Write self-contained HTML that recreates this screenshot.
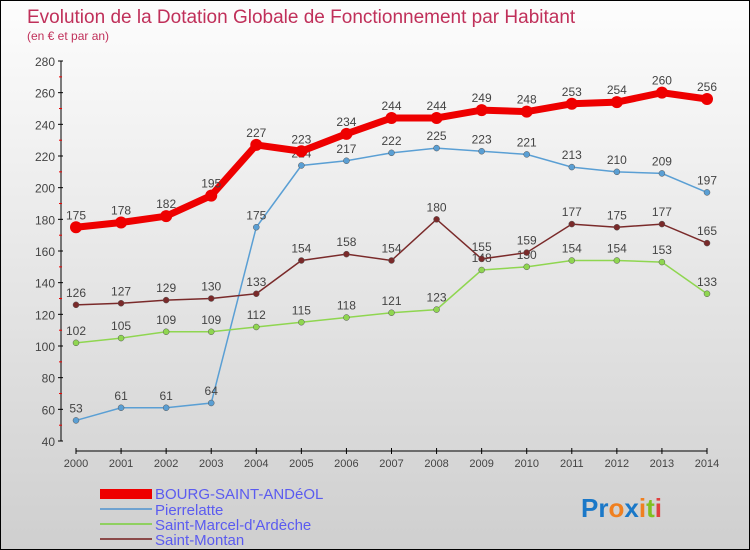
<!DOCTYPE html>
<html><head><meta charset="utf-8"><style>
body{margin:0}
#c{width:748px;height:548px;border:1px solid #000;background:linear-gradient(#fdfdfd,#cfcfcf);position:relative;overflow:hidden;font-family:"Liberation Sans",sans-serif}
</style></head><body>
<div id="c">
<svg id="s" width="748" height="548" style="position:absolute;left:0;top:0">
<text x="26" y="22" fill="#c0305a" font-size="19">Evolution de la Dotation Globale de Fonctionnement par Habitant</text>
<text x="26" y="39" fill="#c0305a" font-size="12">(en € et par an)</text>
<g id="ax"></g><g id="lines"></g>
<g>
<rect x="99" y="488" width="52" height="10" fill="#e00"/>
<text x="154" y="498" fill="#5b5bf0" font-size="15">BOURG-SAINT-ANDéOL</text>
<rect x="99" y="507" width="52" height="2" fill="#6fa2d0"/>
<text x="154" y="514" fill="#5b5bf0" font-size="15">Pierrelatte</text>
<rect x="99" y="522" width="52" height="2" fill="#8fd060"/>
<text x="154" y="529" fill="#5b5bf0" font-size="15">Saint-Marcel-d'Ardèche</text>
<rect x="99" y="537" width="52" height="2" fill="#8b4a4a"/>
<text x="154" y="544" fill="#5b5bf0" font-size="15">Saint-Montan</text>
</g>
<text x="580" y="516" font-size="26" font-weight="bold"><tspan fill="#1a78c8">Pr</tspan><tspan fill="#f08020">o</tspan><tspan fill="#1a78c8">x</tspan><tspan fill="#f08020">i</tspan><tspan fill="#80c020">t</tspan><tspan fill="#e04040">i</tspan></text>
</svg></div>
<script>
const years=[2000,2001,2002,2003,2004,2005,2006,2007,2008,2009,2010,2011,2012,2013,2014];
const bourg=[175,178,182,195,227,223,234,244,244,249,248,253,254,260,256];
const pierrelatte=[53,61,61,64,175,214,217,222,225,223,221,213,210,209,197];
const saintMarcel=[102,105,109,109,112,115,118,121,123,148,150,154,154,153,133];
const saintMontan=[126,127,129,130,133,154,158,154,180,155,159,177,175,177,165];
const yTicks=[40,60,80,100,120,140,160,180,200,220,240,260,280];
const NS="http://www.w3.org/2000/svg";
const xs=i=>75+i*(706-75)/(years.length-1);
const ys=v=>440-(v-40)*(380/240);
function mk(t,a,p){const e=document.createElementNS(NS,t);for(const k in a)e.setAttribute(k,a[k]);p.appendChild(e);return e;}
const ax=document.getElementById('ax');
let l=mk('line',{x1:60,y1:60,x2:60,y2:440,stroke:'#000'},ax);


l=mk('line',{x1:75,y1:450,x2:706,y2:450,stroke:'#000'},ax);


yTicks.forEach((v,i)=>{const y=ys(v);mk('line',{x1:57,y1:y,x2:62,y2:y,stroke:'#000'},ax);
if(i<yTicks.length-1)mk('line',{x1:58,y1:y-15.8,x2:61,y2:y-15.8,stroke:'#e00'},ax);
const t=mk('text',{x:54,y:y+5,'text-anchor':'end','font-size':12,fill:'#444'},ax);t.textContent=v;

});
years.forEach((yr,i)=>{const x=xs(i);mk('line',{x1:x,y1:447,x2:x,y2:453,stroke:'#000'},ax);
const t=mk('text',{x:x,y:466,'text-anchor':'middle','font-size':11,fill:'#444'},ax);t.textContent=yr;

});
const g=document.getElementById('lines');
function series(d,col,w,r,name){
 const p=mk('polyline',{points:d.map((v,i)=>xs(i)+','+ys(v)).join(' '),fill:'none',stroke:col,'stroke-width':w},g);
 
 
 d.forEach((v,i)=>{const c=mk('circle',{cx:xs(i),cy:ys(v),r:r,fill:col,stroke:'#555','stroke-width':r>4?0:0.5},g);
 
 
 const t=mk('text',{x:xs(i),y:ys(v)-8,'text-anchor':'middle','font-size':12,fill:'#444'},g);t.textContent=v;
 
 });
}
series(pierrelatte,'#5a9fd4',1.5,3,'pierrelatte');
series(saintMarcel,'#8fd650',1.5,3,'saint-marcel');
series(saintMontan,'#7a2a2a',1.5,3,'saint-montan');
series(bourg,'#ee0000',7,6,'bourg');
</script>
</body></html>
